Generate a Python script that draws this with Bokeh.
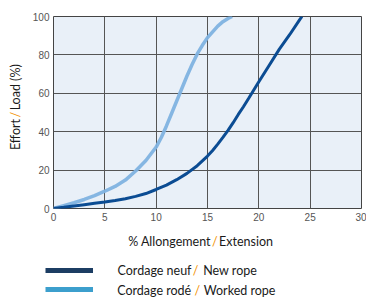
import math
from bokeh.plotting import figure
from bokeh.layouts import column, row
from bokeh.models import Label, Legend, LegendItem, Range1d, FixedTicker
from bokeh.core.properties import value
from bokeh.embed import file_html
from bokeh.resources import INLINE

# ---- data ----
new_x = [0, 1, 2, 3, 4, 5, 6, 7, 8, 9, 10, 11, 12, 13, 14, 15, 15.5, 16, 16.5, 17,
         17.5, 18, 18.5, 19, 20, 21, 22, 23, 24, 24.2]
new_y = [0, 0.6, 1.3, 2.0, 2.7, 3.4, 4.2, 5.1, 6.3, 7.8, 9.9, 12.2, 15.0, 18.3, 22.3,
         27.3, 30.2, 33.5, 37.0, 40.7, 44.7, 49.0, 53.0, 57.3, 66.0, 74.5, 83.0, 90.5,
         98.5, 100]
worked_x = [0, 1, 2, 3, 4, 5, 6, 7, 8, 9, 10, 10.5, 11, 11.5, 12, 12.5, 13, 13.5, 14,
            14.5, 15, 15.5, 16, 16.5, 17, 17.4]
worked_y = [0, 1.5, 3.0, 4.7, 6.7, 9.0, 11.5, 14.8, 19.5, 25.0, 32.0, 37.0, 43.0, 49.5,
            56.0, 62.5, 69.0, 75.0, 80.5, 85.0, 89.0, 92.0, 95.0, 97.3, 99.0, 100]
x_ticks = [0, 5, 10, 15, 20, 25, 30]
y_ticks = [0, 20, 40, 60, 80, 100]

x_label = ["% Allongement", "/", "Extension"]
y_label = ["Effort", "/", "Load (%)"]
legend_fr = ["Cordage neuf", "Cordage rodé"]
legend_en = ["New rope", "Worked rope"]

ORANGE = "#f39200"
TXT = "#1a1a1a"
FONT = "Lato"
FSIZE = "12.5px"

# ---- layout sizes ----
LEFT_W = 28
MAIN_W, MAIN_H = 366 - LEFT_W, 225
BOT_H = 297 - MAIN_H

def blank(w, h):
    f = figure(width=w, height=h, output_backend="svg", toolbar_location=None,
               x_range=Range1d(0, w), y_range=Range1d(0, h),
               x_axis_type=None, y_axis_type=None,
               min_border_left=0, min_border_right=0, min_border_top=0,
               min_border_bottom=0)
    f.outline_line_color = None
    f.xgrid.visible = False
    f.ygrid.visible = False
    f.background_fill_color = "white"
    f.border_fill_color = "white"
    return f

def lab(f, x, y, text, color=TXT, align="left", angle=0.0):
    f.add_layout(Label(x=x, y=y, text=text, text_color=color, text_align=align,
                       text_baseline="middle", text_font=FONT,
                       text_font_size=FSIZE, angle=angle))

# ---- main chart ----
p = figure(width=MAIN_W, height=MAIN_H, output_backend="svg", toolbar_location=None,
           x_range=Range1d(0, 30), y_range=Range1d(0, 100),
           min_border_left=25, min_border_right=5, min_border_top=16,
           min_border_bottom=17)
p.background_fill_color = "#e9f0f8"
p.border_fill_color = "white"
p.outline_line_color = "#444444"
p.outline_line_width = 1

for ax in (p.xaxis[0], p.yaxis[0]):
    ax.axis_line_color = None
    ax.major_tick_line_color = None
    ax.minor_tick_line_color = None
    ax.major_tick_out = 0
    ax.major_tick_in = 0
    ax.major_label_text_font = "Liberation Sans"
    ax.major_label_text_font_size = "10px"
    ax.major_label_text_color = "#555555"
    ax.major_label_standoff = 4
p.xaxis[0].ticker = FixedTicker(ticks=x_ticks)
p.yaxis[0].ticker = FixedTicker(ticks=y_ticks)
p.xgrid.ticker = FixedTicker(ticks=x_ticks)
p.ygrid.ticker = FixedTicker(ticks=y_ticks)
for g in (p.xgrid[0], p.ygrid[0]):
    g.grid_line_color = "#555555"
    g.grid_line_width = 1

p.line(worked_x, worked_y, line_color="#7fb2e0", line_width=3.5, line_alpha=0.95)
p.line(new_x, new_y, line_color="#0b4c93", line_width=3)

# ---- left strip: rotated y title ----
lf = blank(LEFT_W, MAIN_H)
cy = MAIN_H - 115
lab(lf, 15, cy - 5, y_label[0], align="right", angle=math.pi / 2)
lab(lf, 15, cy, y_label[1], color=ORANGE, align="center", angle=math.pi / 2)
lab(lf, 15, cy + 5, y_label[2], align="left", angle=math.pi / 2)

# ---- bottom strip: x title and legend ----
bf = blank(366, BOT_H)
ty = BOT_H - (241 - MAIN_H)
lab(bf, 210.5, ty, x_label[0], align="right")
lab(bf, 214.3, ty, x_label[1], color=ORANGE, align="center")
lab(bf, 218.5, ty, x_label[2], align="left")

# legend swatches: renderers holding no drawable point, only their style is shown
nan = float("nan")
r1 = bf.line(x=[nan], y=[nan], line_color="#1c3d63", line_width=5)
r2 = bf.line(x=[nan], y=[nan], line_color="#3c9fcd", line_width=5)
leg = Legend(items=[LegendItem(label=value("\u00a0"), renderers=[r1]),
                    LegendItem(label=value("\u00a0"), renderers=[r2])],
             location=(45, BOT_H - (270.3 - MAIN_H) - 6 - 31 + 12),
             orientation="vertical",
             glyph_width=48, glyph_height=12, label_height=12, label_width=1,
             label_standoff=0, spacing=7, padding=0, margin=0,
             border_line_color=None, background_fill_alpha=0,
             label_text_font_size="6px")
bf.add_layout(leg, "center")

rows_y = [270.3, 289.7]
end_fr = [191, 190.7]
slash_x = [195, 196.7]
start_en = [202.7, 203.3]
for i in range(2):
    yy = BOT_H - (rows_y[i] - MAIN_H)
    lab(bf, end_fr[i], yy, legend_fr[i], align="right")
    lab(bf, slash_x[i], yy, "/", color=ORANGE, align="center")
    lab(bf, start_en[i], yy, legend_en[i], align="left")

layout = column(row(lf, p, spacing=0), bf, spacing=0)
open("out.html", "w").write(file_html(layout, INLINE))
